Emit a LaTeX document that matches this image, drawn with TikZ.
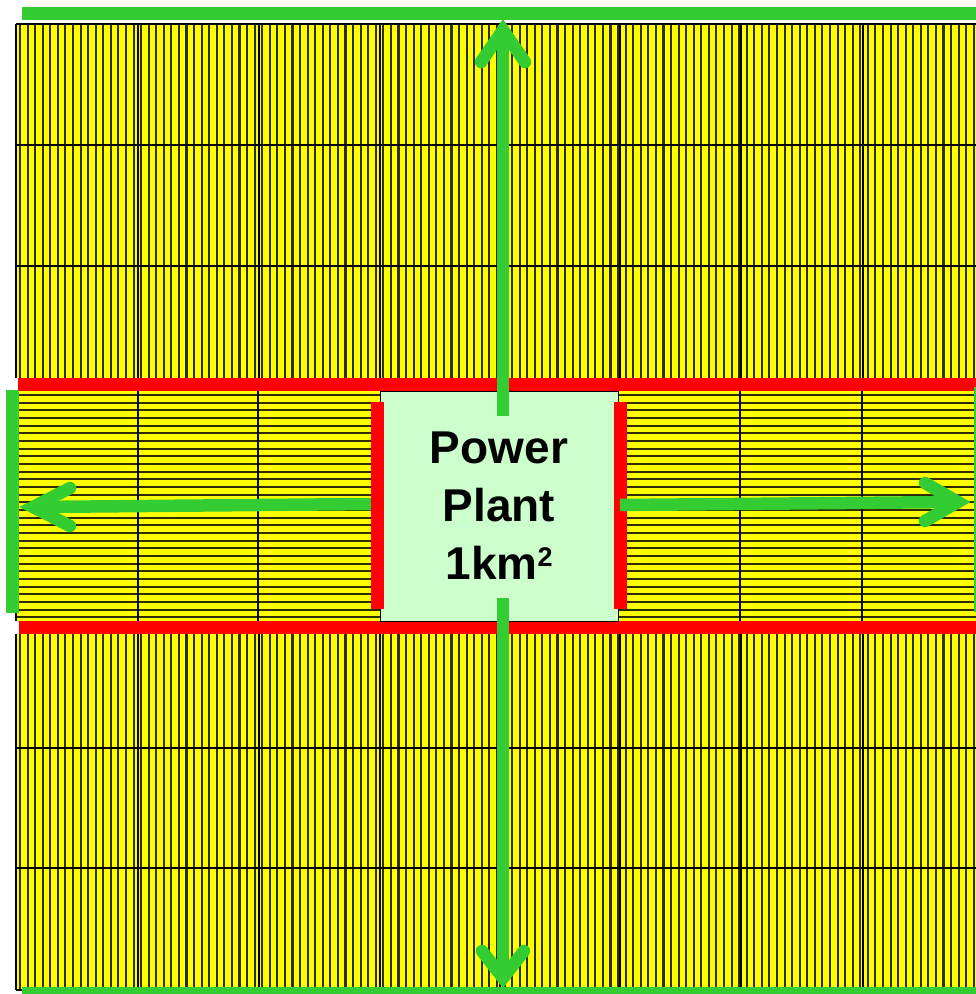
\documentclass[tikz,border=0pt]{standalone}
\usepackage{fontspec}
\setmainfont{Liberation Sans}
\definecolor{pyellow}{RGB}{255,255,0}
\definecolor{pstripe}{RGB}{45,45,0}
\definecolor{pred}{RGB}{255,0,0}
\definecolor{pgreen}{RGB}{51,204,51}
\definecolor{plight}{RGB}{204,255,204}
\newcommand{\pwrsup}[1]{\raisebox{13pt}{\fontsize{27pt}{27pt}\selectfont #1}}
\tikzset{
  panel/.style={fill=pyellow},
  stripe/.style={draw=pstripe,line width=2.1pt},
  cell/.style={draw=black,line width=2.2pt},
  redbar/.style={draw=pred,line width=13pt},
  plantbox/.style={draw=black,line width=0.8pt,fill=plight,minimum width=238pt,minimum height=230pt,inner sep=0pt,align=center,font=\fontsize{46pt}{58pt}\selectfont\bfseries},
  stem/.style={draw=pgreen,line width=12.5pt,line cap=butt},
  barbs/.style={draw=pgreen,line width=12.5pt,line cap=round,line join=miter},
  edgebar/.style={draw=pgreen,line width=13pt}
}
\begin{document}
\begin{tikzpicture}[x=1pt,y=-1pt]
\useasboundingbox (0,0) rectangle (976,994);
% panel areas
\fill[panel] (16,24) rectangle (976,378);
\fill[panel] (16,634) rectangle (976,990);
\fill[panel] (16,391) rectangle (380,621);
\fill[panel] (618,391) rectangle (976,621);
% vertical stripes
\foreach \i in {0,...,126} {
  \draw[stripe] ({20+7.57*\i},24) -- ({20+7.57*\i},378);
  \draw[stripe] ({20+7.57*\i},634) -- ({20+7.57*\i},990);
}
% horizontal stripes in middle band
\foreach \j in {0,...,29} {
  \draw[stripe] (16,{395+7.67*\j}) -- (380,{395+7.67*\j});
  \draw[stripe] (618,{395+7.67*\j}) -- (976,{395+7.67*\j});
}
% cell borders
\foreach \x in {16,138,259,380,500,620,741,863} {
  \draw[cell] (\x,24) -- (\x,378);
  \draw[cell] (\x,634) -- (\x,990);
}
\foreach \y in {24,145,266} \draw[cell] (16,\y) -- (976,\y);
\foreach \y in {748,868,990} \draw[cell] (16,\y) -- (976,\y);
\foreach \x in {16,138,258,740,862} \draw[cell] (\x,391) -- (\x,621);
% red borders of the band
\draw[redbar] (18,384.5) -- (976,384.5);
\draw[redbar] (19,627.5) -- (976,627.5);
% power plant
\node[plantbox] (plant) at (499,506) {Power\\Plant\\1km\pwrsup{2}};
% coordinates of arrows
\coordinate (uptip) at (503,30);
\coordinate (dntip) at (503,978);
\coordinate (lftip) at (33,507);
\coordinate (rttip) at (958,502);
% arrows
\draw[stem] (503,416) -- (uptip);
\draw[barbs] (481,62) -- (uptip) -- (525,62);
\draw[stem] (503,598) -- (dntip);
\draw[barbs] (482,951) -- (dntip) -- (524,951);
\draw[stem] (372,504) -- (lftip);
\draw[barbs] (70,488) -- (lftip) -- (70,526);
% red side bars
\draw[redbar] (377.5,402) -- (377.5,609);
\draw[redbar] (620.5,402) -- (620.5,609);
\draw[stem] (620,505) -- (rttip);
\draw[barbs] (925,483) -- (rttip) -- (925,521);
% green edges
\draw[edgebar] (22,13.5) -- (976,13.5);
\draw[edgebar] (22,993.5) -- (976,993.5);
\draw[edgebar] (12.5,390) -- (12.5,613);
\draw[edgebar] (980,387) -- (980,612);
\end{tikzpicture}
\end{document}
